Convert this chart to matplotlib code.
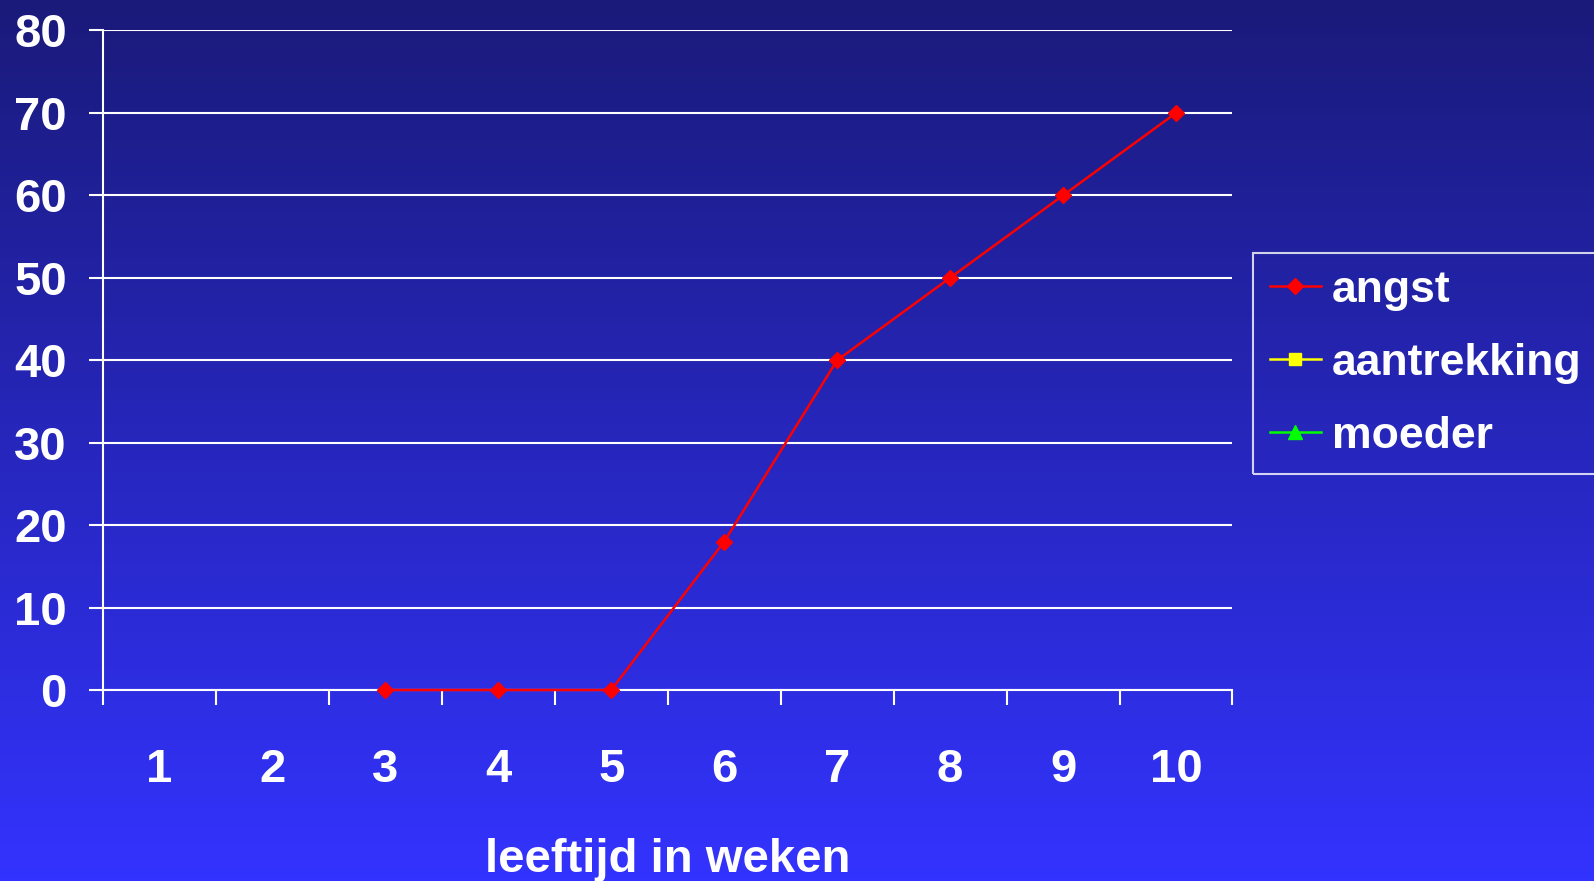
import matplotlib.pyplot as plt
import numpy as np
from matplotlib.ticker import FixedLocator

plt.rcParams['font.family'] = ['Liberation Sans', 'DejaVu Sans']
plt.rcParams['font.weight'] = 'bold'
plt.rcParams['axes.labelweight'] = 'bold'

weeks = ["1", "2", "3", "4", "5", "6", "7", "8", "9", "10"]
angst = [np.nan, np.nan, 0, 0, 0, 18, 40, 50, 60, 70]
aantrekking = [np.nan] * 10
moeder = [np.nan] * 10
y_ticks = [0, 10, 20, 30, 40, 50, 60, 70, 80]

FS = 34
fig = plt.figure(figsize=(15.94, 8.81), dpi=100)

# gradient background
bg = fig.add_axes([0, 0, 1, 1], zorder=-10)
top = np.array([26, 26, 122]) / 255
bottom = np.array([51, 51, 255]) / 255
t = np.linspace(0, 1, 256)[:, None]
grad = top + (bottom - top) * t
bg.imshow(grad[:, None, :], aspect="auto", extent=[0, 1, 0, 1])
bg.axis("off")

ax = fig.add_axes([0.0646, 0.2168, 0.7086, 0.7486])
ax.patch.set_alpha(0)
x = np.arange(1, len(weeks) + 1)
ax.plot(x, angst, color="#ff0000", lw=1.8, marker="D", ms=8.5, label="angst",
        clip_on=False, zorder=5)
ax.plot(x, aantrekking, color="#ffff00", lw=1.8, marker="s", ms=8.5, label="aantrekking")
ax.plot(x, moeder, color="#00ff00", lw=1.8, marker="^", ms=10, label="moeder")

ax.set_xlim(0.5, len(weeks) + 0.5)
ax.set_ylim(0, 80)
ax.set_yticks(y_ticks)
ax.set_xticks(x)
ax.set_xticklabels(weeks)
ax.xaxis.set_minor_locator(FixedLocator(np.arange(0.5, len(weeks) + 1, 1)))
ax.tick_params(axis="x", which="major", length=0, pad=42, colors="white", labelsize=FS)
ax.tick_params(axis="x", which="minor", length=11, width=1.5, colors="white", direction="out")
ax.tick_params(axis="y", length=10, width=1.5, pad=16, colors="white", labelsize=FS)
ax.grid(axis="y", color="white", lw=1.5)
for s in ["top", "right"]:
    ax.spines[s].set_visible(False)
for s in ["left", "bottom"]:
    ax.spines[s].set_color("white")
    ax.spines[s].set_linewidth(1.5)
ax.set_xlabel("leeftijd in weken", color="white", fontsize=FS, labelpad=33)

leg = fig.legend(loc="upper left", bbox_to_anchor=(0.786, 0.713), fontsize=32,
                 frameon=True, fancybox=False, handlelength=1.15, handletextpad=0.25,
                 labelspacing=0.72, borderpad=0.38, borderaxespad=0)
leg.get_frame().set_facecolor("none")
leg.get_frame().set_edgecolor("white")
leg.get_frame().set_linewidth(1.5)
for txt in leg.get_texts():
    txt.set_color("white")

fig.savefig("out.png", dpi=100)
